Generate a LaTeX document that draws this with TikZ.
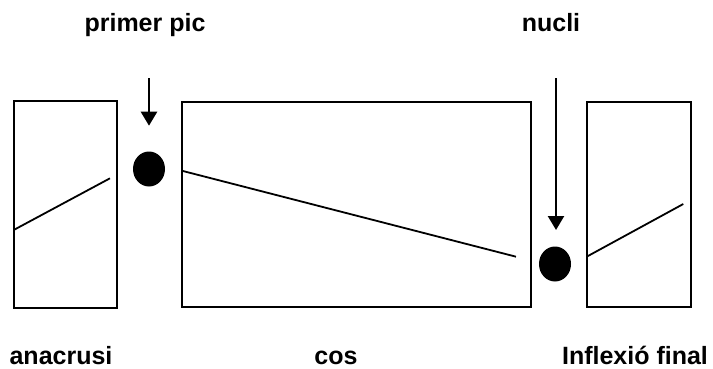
\documentclass[tikz,border=0pt]{standalone}
\usepackage{fontspec}
\setmainfont{Liberation Sans}
\usetikzlibrary{arrows.meta,shapes.geometric}
\begin{document}
\begin{tikzpicture}[x=1pt,y=-1pt,
  box/.style={draw,line width=2pt,inner sep=0pt,outer sep=0pt},
  dot/.style={ellipse,fill=black,inner sep=0pt,minimum width=32pt,minimum height=35pt},
  lbl/.style={anchor=base,inner sep=0pt,font=\fontsize{25}{30}\selectfont\bfseries},
  arr/.style={line width=2.5pt,-{Triangle[length=14pt,width=16pt]}},
  seg/.style={line width=1.8pt}]
\useasboundingbox (0,0) rectangle (713,369);
% boxes
\node[box,minimum width=103.6pt,minimum height=206.5pt] (L) at (65.5,204.3) {};
\node[box,minimum width=349.3pt,minimum height=205.5pt] (M) at (356.3,204.3) {};
\node[box,minimum width=104pt,minimum height=205.3pt] (R) at (638.7,204.3) {};
% dots
\node[dot] (d1) at (149,169) {};
\node[dot] (d2) at (555,264) {};
% lines in boxes
\coordinate (l1) at (13.7,230);
\coordinate (l2) at (110,178.3);
\coordinate (m1) at (181.7,170.7);
\coordinate (m2) at (516,256.7);
\coordinate (r1) at (586.7,256.7);
\coordinate (r2) at (683.3,204);
\draw[seg] (l1) -- (l2);
\draw[seg] (m1) -- (m2);
\draw[seg] (r1) -- (r2);
% arrows
\coordinate (a1s) at (149,78.3);
\coordinate (a1e) at (149,125.7);
\coordinate (a2s) at (556,78.3);
\coordinate (a2e) at (556,230);
\draw[arr] (a1s) -- (a1e);
\draw[arr] (a2s) -- (a2e);
% labels
\node[lbl] (t1) at (145,31.7) {primer pic};
\node[lbl] (t2) at (551,31.7) {nucli};
\node[lbl] (t3) at (61,364) {anacrusi};
\node[lbl] (t4) at (336,364) {cos};
\node[lbl] (t5) at (635,364) {Inflexió final};
\end{tikzpicture}
\end{document}
